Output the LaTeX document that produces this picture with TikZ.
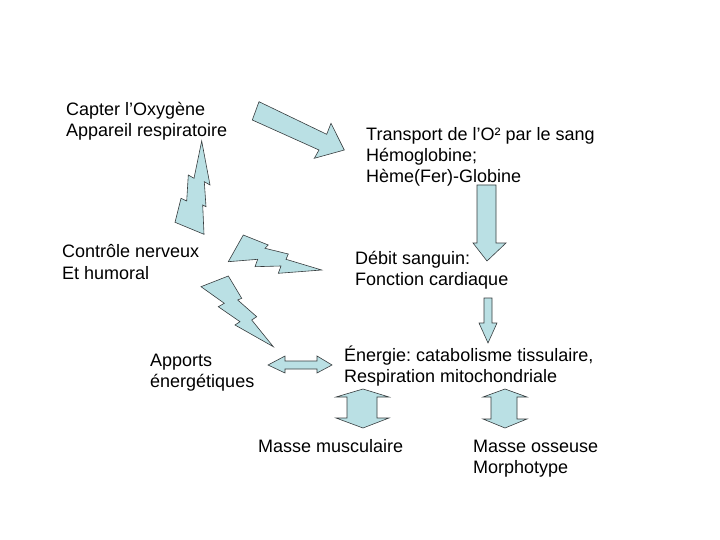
\documentclass[tikz,border=0pt]{standalone}
\usepackage{fontspec}
\setmainfont{Liberation Sans}
\frenchspacing
\usetikzlibrary{positioning}
\definecolor{FlashCyan}{RGB}{186,224,228}
\definecolor{EdgeGray}{RGB}{55,60,62}
\tikzset{
  txt/.style={anchor=base west, inner sep=0pt, align=left, font=\fontsize{18}{21}\selectfont},
  blockshape/.style={fill=FlashCyan, draw=EdgeGray, line width=0.6pt, line join=miter}
}
\begin{document}
\begin{tikzpicture}[x=1pt,y=-1pt]
  \useasboundingbox (0,0) rectangle (720,540);
  % texts (placed at the baseline of their last line)
  \node[txt] (capter) at (66,137) {Capter l’Oxygène\\Appareil respiratoire};
  \node[txt] (transport) at (366,183) {Transport de l’O² par le sang\\Hémoglobine;\\Hème(Fer)-Globine};
  \node[txt] (controle) at (62,279) {Contrôle nerveux\\Et humoral};
  \node[txt] (debit) at (355,285) {Débit sanguin:\\Fonction cardiaque};
  \node[txt] (apports) at (150,387) {Apports\\énergétiques};
  \node[txt] (energie) at (344,382) {Énergie: catabolisme tissulaire,\\Respiration mitochondriale};
  \node[txt] (musc) at (258,452) {Masse musculaire};
  \node[txt] (osseuse) at (473,473) {Masse osseuse\\Morphotype};
  % big arrow
  \draw[blockshape] (259,101.7) -- (326.7,134.3) -- (331,123.3) -- (344.3,150)
    -- (314.3,158.3) -- (319,150) -- (252.3,120) -- cycle;
  % down arrows
  \draw[blockshape] (477,185) -- (496,185) -- (496,243) -- (506,243) -- (487,261)
    -- (473,243) -- (477,243) -- cycle;
  \draw[blockshape] (484,298) -- (492,298) -- (492,323) -- (497,323) -- (488,343)
    -- (479,323) -- (484,323) -- cycle;
  % double arrows
  \draw[blockshape] (268,365) -- (285,356) -- (285,361) -- (317,361) -- (317,356) -- (332,365)
    -- (317,373) -- (317,369) -- (285,369) -- (285,373) -- cycle;
  \draw[blockshape] (363,389) -- (389,397) -- (377,397) -- (377,418) -- (389,418) -- (363,428)
    -- (336,418) -- (347,418) -- (347,397) -- (336,397) -- cycle;
  \draw[blockshape] (505,389) -- (527,397) -- (517,397) -- (517,419) -- (527,419) -- (505,428)
    -- (483,419) -- (491,419) -- (491,397) -- (483,397) -- cycle;
  % lightning bolts
  \draw[blockshape] (201.7,141) -- (210,185) -- (204.3,181.7) -- (206,206.7) -- (202.7,205)
    -- (204,234.3) -- (175,222.3) -- (181,198.3) -- (186.7,201) -- (188.3,175) -- (194,178.3) -- cycle;
  \draw[blockshape] (228.3,261.7) -- (243.3,235) -- (268.3,245) -- (265,248.3) -- (288.3,254)
    -- (286,259.3) -- (321.7,270) -- (278.3,273.3) -- (281,266) -- (255,266.7) -- (257.7,259.3) -- cycle;
  \draw[blockshape] (201,286.7) -- (228.3,276) -- (241.7,298.3) -- (237.7,300) -- (256.7,316.7)
    -- (251.7,320) -- (273.3,346.7) -- (235,325) -- (240,321.7) -- (218.3,306.7) -- (224.3,303.3) -- cycle;
\end{tikzpicture}
\end{document}
